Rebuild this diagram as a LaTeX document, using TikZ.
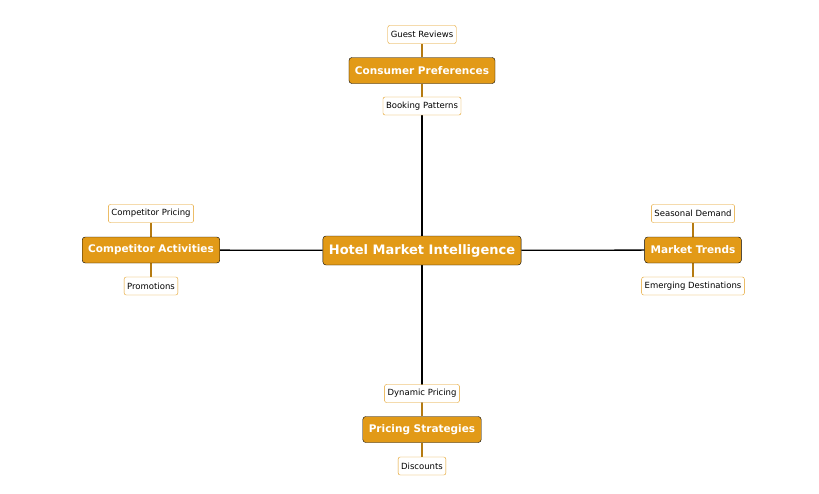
\documentclass[tikz,border=0pt]{standalone}
\usepackage{fontspec}
\setmainfont{DejaVu Sans}
\usetikzlibrary{backgrounds}
\definecolor{gold}{HTML}{E29A17}
\begin{document}
\begin{tikzpicture}[x=1pt,y=-1pt,
  hub/.style={draw=black,fill=gold,rounded corners=3pt,text=white,font=\bfseries\fontsize{13}{15}\selectfont,inner xsep=6pt,minimum height=29pt},
  br/.style={draw=black,fill=gold,rounded corners=3pt,text=white,font=\bfseries\fontsize{10.5}{12}\selectfont,inner xsep=6pt,minimum height=26pt},
  lf/.style={draw=gold,fill=white,rounded corners=2pt,text=black,font=\fontsize{8.5}{10}\selectfont,inner xsep=3pt,minimum height=18pt},
  main/.style={draw=black,line width=1.3pt},
  sub/.style={draw=gold!80!black,line width=1.1pt}]
\useasboundingbox (0,0) rectangle (819,493);
\node[hub] (c) at (422,250.5) {Hotel Market Intelligence};
\node[br] (cp) at (422,70.5) {Consumer Preferences};
\node[br] (ca) at (151,250) {Competitor Activities};
\node[br] (mt) at (693,250) {Market Trends};
\node[br] (ps) at (422,429.5) {Pricing Strategies};
\node[lf] (gr) at (422,34.5) {Guest Reviews};
\node[lf] (bp) at (422,106) {Booking Patterns};
\node[lf] (cpr) at (151,213.5) {Competitor Pricing};
\node[lf] (pr) at (151,286) {Promotions};
\node[lf] (sd) at (693,213.5) {Seasonal Demand};
\node[lf] (ed) at (693,286) {Emerging Destinations};
\node[lf] (dp) at (422,393.5) {Dynamic Pricing};
\node[lf] (di) at (422,466) {Discounts};
\begin{scope}[on background layer]
\draw[main] (c) -- (cp);
\draw[main] (c) -- (ca);
\draw[main] (c) -- (mt);
\draw[main] (c) -- (ps);
\draw[sub] (cp) -- (gr); \draw[sub] (cp) -- (bp);
\draw[sub] (ca) -- (cpr); \draw[sub] (ca) -- (pr);
\draw[sub] (mt) -- (sd); \draw[sub] (mt) -- (ed);
\draw[sub] (ps) -- (dp); \draw[sub] (ps) -- (di);
\end{scope}
\end{tikzpicture}
\end{document}
